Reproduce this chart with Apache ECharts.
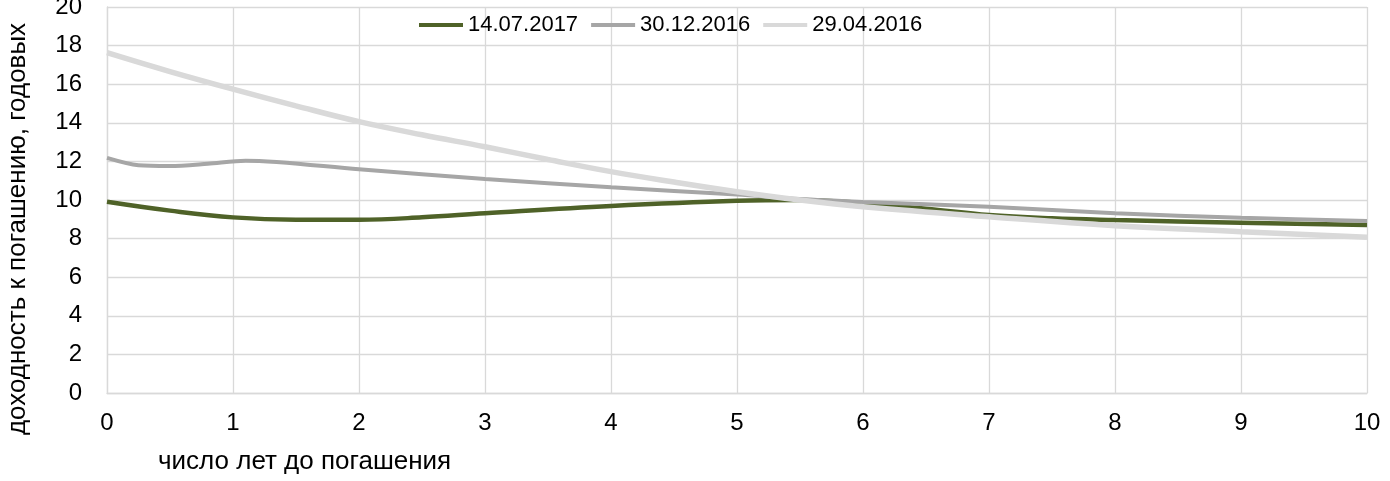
<!DOCTYPE html>
<html>
<head>
<meta charset="utf-8">
<script src="https://cdn.jsdelivr.net/npm/echarts@6/dist/echarts.min.js"></script>
<style>
  html, body { margin: 0; padding: 0; background: #fff; }
  #chart { width: 1390px; height: 481px; }
</style>
</head>
<body>
<div id="chart"></div>
<script>
// кривые доходности: число лет до погашения -> доходность, % годовых
var seriesNames = ["14.07.2017", "30.12.2016", "29.04.2016"];

var yearsJul2017 = [0, 0.5, 1, 1.5, 2, 2.5, 3, 4, 5, 5.5, 6, 6.5, 7, 7.5, 8, 9, 10];
var yieldJul2017 = [9.91, 9.45, 9.1, 8.98, 8.98, 9.1, 9.31, 9.69, 9.96, 10.0, 9.83, 9.55, 9.22, 9.05, 8.96, 8.82, 8.7];

var yearsDec2016 = [0, 0.25, 0.5, 0.8, 1.1, 2, 3, 4, 5, 5.5, 6, 7, 8, 9, 10];
var yieldDec2016 = [12.18, 11.8, 11.76, 11.88, 12.04, 11.59, 11.09, 10.66, 10.28, 10.05, 9.9, 9.65, 9.31, 9.08, 8.91];

var yearsApr2016 = [0, 0.5, 1, 1.5, 2, 2.5, 3, 3.5, 4, 4.5, 5, 5.5, 6, 7, 8, 9, 10];
var yieldApr2016 = [17.63, 16.65, 15.74, 14.88, 14.06, 13.38, 12.76, 12.1, 11.47, 10.93, 10.43, 10.0, 9.65, 9.13, 8.67, 8.36, 8.07];

var xName = "число лет до погашения";
var yName = "доходность к погашению, годовых";

function pairs(xs, ys) {
  var out = [];
  for (var i = 0; i < xs.length; i++) {
    out.push([xs[i], ys[i]]);
  }
  return out;
}

var fontFam = "'Liberation Sans', Arial, sans-serif";
var gridColor = "#d9d9d9";

var myChart = echarts.init(document.getElementById("chart"));

var option = {
  animation: false,
  color: ["#4f6228", "#a6a6a6", "#d9d9d9"],
  grid: {
    left: 107,
    right: 23,
    top: 7,
    bottom: 88,
    containLabel: false,
    outerBoundsMode: "none"
  },
  legend: {
    left: 419,
    top: 14,
    padding: 0,
    icon: "rect",
    itemWidth: 44,
    itemHeight: 4,
    itemGap: 13,
    textStyle: {
      fontFamily: fontFam,
      fontSize: 22,
      color: "#000"
    },
    data: seriesNames
  },
  graphic: [
    {
      type: "text",
      rotation: Math.PI / 2,
      x: 18,
      y: 229,
      style: {
        text: yName,
        font: "26px " + fontFam,
        fill: "#000",
        textAlign: "center",
        textVerticalAlign: "middle"
      }
    },
    {
      type: "text",
      left: 158,
      top: 449,
      style: {
        text: xName,
        font: "26px " + fontFam,
        fill: "#000"
      }
    }
  ],
  xAxis: {
    type: "value",
    min: 0,
    max: 10,
    interval: 1,
    axisLine: { show: true, lineStyle: { color: gridColor, width: 1.3 } },
    axisTick: { show: false },
    splitLine: { show: true, lineStyle: { color: gridColor, width: 1.3 } },
    axisLabel: {
      color: "#000",
      fontFamily: fontFam,
      fontSize: 24,
      margin: 18
    }
  },
  yAxis: {
    type: "value",
    min: 0,
    max: 20,
    interval: 2,
    axisLine: { show: true, lineStyle: { color: gridColor, width: 1.3 } },
    axisTick: { show: false },
    splitLine: { show: true, lineStyle: { color: gridColor, width: 1.3 } },
    axisLabel: {
      color: "#000",
      fontFamily: fontFam,
      fontSize: 24,
      margin: 25
    }
  },
  series: [
    {
      name: seriesNames[0],
      type: "line",
      smooth: 0.4,
      showSymbol: false,
      lineStyle: { width: 4.5 },
      data: pairs(yearsJul2017, yieldJul2017)
    },
    {
      name: seriesNames[1],
      type: "line",
      smooth: 0.3,
      showSymbol: false,
      lineStyle: { width: 4 },
      data: pairs(yearsDec2016, yieldDec2016)
    },
    {
      name: seriesNames[2],
      type: "line",
      smooth: 0.4,
      showSymbol: false,
      lineStyle: { width: 5.5 },
      data: pairs(yearsApr2016, yieldApr2016)
    }
  ]
};

myChart.setOption(option);
</script>
</body>
</html>
